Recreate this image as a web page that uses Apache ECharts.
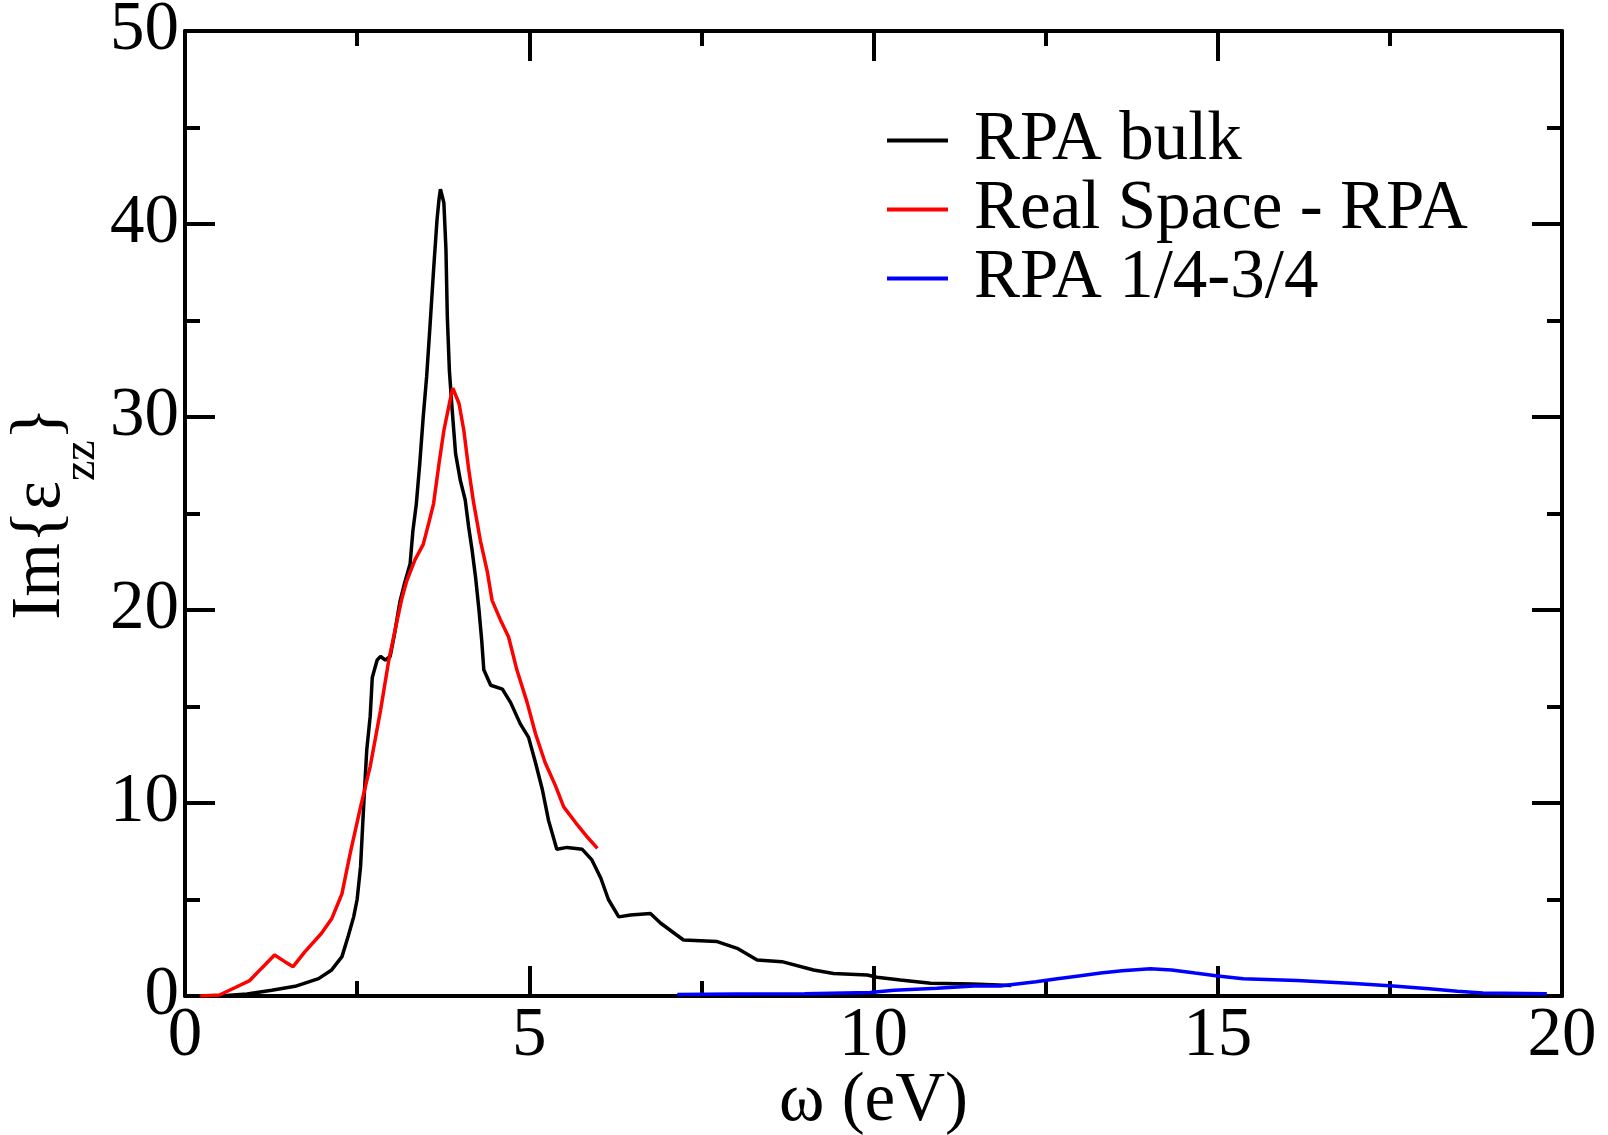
<!DOCTYPE html>
<html><head><meta charset="utf-8">
<script src="https://cdn.jsdelivr.net/npm/echarts@6/dist/echarts.min.js"></script>
<style>html,body{margin:0;padding:0;background:#fff}#c{width:1608px;height:1135px}</style>
</head><body><div id="c"></div>
<script>
const seriesNames = ['RPA bulk', 'Real Space - RPA', 'RPA 1/4-3/4'];
const seriesColors = ['#000000', '#ff0000', '#0000ff'];
const xTitle = 'ω (eV)';
const yTitle = '{m|Im{ε}{s|zz}}';

const rpaBulk = [[0.3,0.0],[0.6,0.03],[0.9,0.1],[1.26,0.3],[1.6,0.5],[1.94,0.9],[2.13,1.35],[2.28,2.04],[2.37,3.1],[2.45,4.1],[2.5,5.0],[2.55,6.7],[2.6,10.2],[2.64,12.75],[2.69,14.5],[2.72,16.5],[2.79,17.4],[2.84,17.6],[2.91,17.4],[2.98,17.6],[3.04,18.7],[3.12,20.4],[3.19,21.4],[3.27,22.4],[3.31,24.1],[3.36,25.5],[3.41,27.6],[3.46,30.0],[3.51,32.1],[3.56,34.8],[3.61,37.6],[3.66,40.2],[3.69,41.3],[3.71,41.8],[3.76,41.1],[3.79,38.7],[3.81,35.2],[3.84,32.4],[3.88,30.4],[3.93,28.1],[4.0,26.7],[4.07,25.7],[4.12,24.3],[4.17,23.1],[4.22,21.7],[4.27,20.0],[4.31,18.4],[4.34,16.9],[4.44,16.1],[4.61,15.9],[4.73,15.2],[4.87,14.1],[4.99,13.4],[5.09,12.1],[5.19,10.7],[5.28,9.1],[5.40,7.6],[5.55,7.7],[5.77,7.6],[5.91,7.05],[6.04,6.1],[6.15,5.0],[6.3,4.1],[6.47,4.2],[6.76,4.28],[6.91,3.77],[7.24,2.9],[7.73,2.82],[8.02,2.47],[8.31,1.87],[8.67,1.78],[9.13,1.35],[9.42,1.17],[9.91,1.09],[10.05,0.97],[10.39,0.83],[10.83,0.66],[11.43,0.62],[12.0,0.55]];

const realSpaceRpa = [[0.22,0.0],[0.5,0.05],[0.73,0.44],[0.94,0.8],[1.11,1.43],[1.30,2.12],[1.45,1.78],[1.57,1.52],[1.74,2.29],[1.98,3.24],[2.13,4.0],[2.28,5.3],[2.40,7.4],[2.55,9.8],[2.69,11.9],[2.84,14.8],[2.96,17.4],[3.06,19.1],[3.15,20.6],[3.22,21.5],[3.34,22.6],[3.46,23.4],[3.54,24.5],[3.61,25.5],[3.69,27.6],[3.76,29.3],[3.84,30.7],[3.89,31.5],[3.98,30.7],[4.05,29.3],[4.12,27.3],[4.19,25.6],[4.29,23.6],[4.39,22.0],[4.46,20.5],[4.58,19.5],[4.70,18.6],[4.82,16.9],[4.97,15.2],[5.09,13.6],[5.23,12.1],[5.38,10.9],[5.50,9.8],[5.67,9.0],[5.84,8.25],[5.99,7.65]];

const rpaQuarter = [[7.15,0.08],[8.0,0.1],[9.0,0.12],[9.95,0.18],[10.3,0.3],[10.92,0.4],[11.46,0.52],[11.84,0.52],[12.05,0.61],[12.36,0.74],[12.67,0.89],[12.98,1.04],[13.30,1.19],[13.61,1.31],[14.02,1.41],[14.33,1.35],[14.67,1.19],[15.0,1.04],[15.37,0.89],[16.15,0.8],[16.98,0.65],[17.55,0.52],[18.07,0.37],[18.48,0.24],[18.85,0.15],[19.78,0.12]];

const F = 'Liberation Serif';
const FS = 69;
const chart = echarts.init(document.getElementById('c'), null, {renderer: 'canvas'});

const lineS = {color: '#000', width: 4};
function axisBase(extra) {
  return Object.assign({
    type: 'value',
    axisLine: {show: true, onZero: false, lineStyle: lineS},
    axisTick: {show: true, inside: true, length: 30, lineStyle: lineS},
    minorTick: {show: true, splitNumber: 2, length: 15, lineStyle: lineS},
    splitLine: {show: false},
    minorSplitLine: {show: false},
    nameMoveOverlap: false,
    axisLabel: {fontFamily: F, fontSize: FS, color: '#000'}
  }, extra);
}

const option = {
  animation: false,
  backgroundColor: '#fff',
  grid: {left: 185, right: 46, top: 31, bottom: 139, containLabel: false, outerBoundsMode: 'none'},
  xAxis: [
    axisBase({min: 0, max: 20, interval: 5, position: 'bottom',
      axisLabel: {fontFamily: F, fontSize: FS, color: '#000', margin: 6},
      name: xTitle, nameLocation: 'middle', nameGap: 71,
      nameTextStyle: {fontFamily: F, fontSize: FS, color: '#000'}}),
    axisBase({min: 0, max: 20, interval: 5, position: 'top', axisLabel: {show: false}})
  ],
  yAxis: [
    axisBase({min: 0, max: 50, interval: 10, position: 'left',
      axisLabel: {fontFamily: F, fontSize: FS, color: '#000', margin: 6},
      name: yTitle, nameLocation: 'middle', nameGap: 80,
      nameTextStyle: {fontFamily: F, fontSize: FS, color: '#000',
        rich: {m: {fontFamily: F, fontSize: FS, color: '#000'},
               s: {fontFamily: F, fontSize: 46, color: '#000', padding: [82, 0, 0, 0]}}}}),
    axisBase({min: 0, max: 50, interval: 10, position: 'right', axisLabel: {show: false}})
  ],
  legend: {
    orient: 'vertical', left: 887, top: 106, padding: 0, itemGap: 0,
    itemWidth: 61, itemHeight: 4, icon: 'rect',
    data: seriesNames,
    textStyle: {fontFamily: F, fontSize: FS, color: '#000', padding: [0, 0, 0, 21]}
  },
  series: [rpaBulk, realSpaceRpa, rpaQuarter].map((d, i) => ({
    name: seriesNames[i], type: 'line', data: d, xAxisIndex: 0, yAxisIndex: 0,
    showSymbol: false, symbol: 'none', smooth: false, z: 2 + i,
    lineStyle: {color: seriesColors[i], width: 3.5}, itemStyle: {color: seriesColors[i]}
  }))
};
chart.setOption(option);
</script></body></html>
